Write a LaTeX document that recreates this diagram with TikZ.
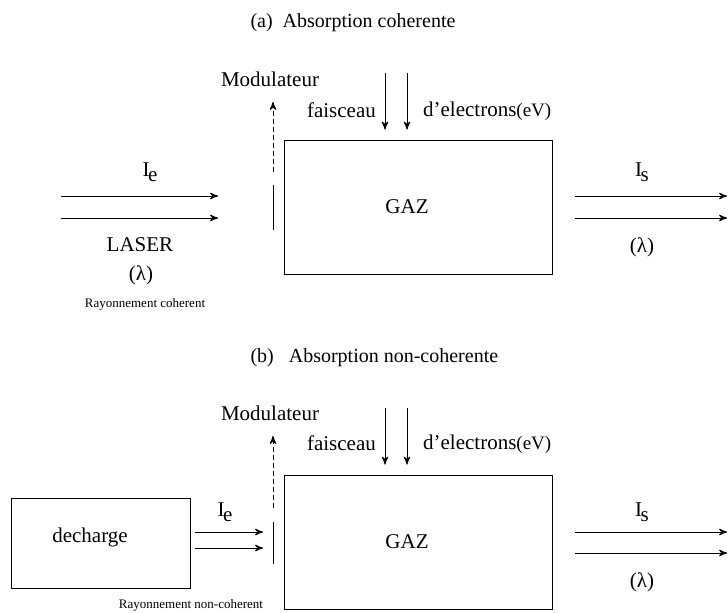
\documentclass[tikz,border=0pt]{standalone}
\usepackage{fontspec}
\setmainfont{Liberation Serif}
\usetikzlibrary{arrows}

\newcommand{\intens}[1]{I\kern-0.8pt\raisebox{-0.55ex}{#1}}

\begin{document}
\begin{tikzpicture}[x=0.5pt,y=-0.5pt,>=stealth',line width=0.5pt,
    font=\fontsize{10.5}{12}\selectfont]
  \tikzstyle{box}=[rectangle,draw,inner sep=0pt]
  \tikzstyle{gaz box}=[box,minimum width=134pt,minimum height=67pt]
  \tikzstyle{small}=[font=\fontsize{6.5}{8}\selectfont]
  \tikzstyle{caption}=[anchor=west,inner xsep=0pt,font=\fontsize{10}{12}\selectfont]
  \tikzstyle{modul}=[->,dash pattern=on 2.5pt off 1.5pt]
  \useasboundingbox (0,0) rectangle (728,612);
  % (a) coherent
  \begin{scope}
    \node [caption] (title) at (250,23) {(a)\ \ Absorption coherente};
    \node [gaz box] (gaz) at (418,207) {};
    \node (gazl) at (407,207) {GAZ};
    \node (mod) at (270,79) {Modulateur};
    \node [anchor=east] (fais) at (383,110) {faisceau};
    \node [anchor=west] (elec) at (416,111) {d’electrons\fontsize{9.5}{10}\selectfont(eV)};
    \foreach \x [count=\i] in {385,407} {
      \coordinate (f\i) at (\x,73);
      \draw [->] (f\i) -- ([yshift=5pt]gaz.north -| f\i);
    }
    \coordinate (m1) at (273,185); \coordinate (m2) at (273,230);
    \draw (m1) -- (m2);
    \coordinate (d1) at (273,172); \coordinate (d2) at (273,102);
    \draw [modul] (d1) -- (d2);
    \foreach \y [count=\i] in {196,218} {
      \coordinate (inA\i) at (61,\y); \coordinate (inB\i) at (218,\y);
      \draw [->] (inA\i) -- (inB\i);
      \coordinate (outA\i) at (575,\y); \coordinate (outB\i) at (727,\y);
      \draw [->] (outA\i) -- (outB\i);
    }
    \node (ie) at (150,172) {\intens{e}};
    \node (laser) at (140,245) {LASER};
    \node (lin) at (141,275) {(λ)};
    \node [small] (ray) at (145,304) {Rayonnement coherent};
    \node (is) at (642,172) {\intens{s}};
    \node (lout) at (642,247) {(λ)};
  \end{scope}
  % (b) non-coherent
  \begin{scope}[yshift=-167.5pt]
    \node [caption] (title) at (250,23) {(b)\ \ \ Absorption non-coherente};
    \node [gaz box] (gaz) at (418,207) {};
    \node (gazl) at (407,207) {GAZ};
    \node (mod) at (270,78) {Modulateur};
    \node [anchor=east] (fais) at (383,108) {faisceau};
    \node [anchor=west] (elec) at (416,109) {d’electrons\fontsize{9.5}{10}\selectfont(eV)};
    \foreach \x [count=\i] in {385,407} {
      \coordinate (f\i) at (\x,73);
      \draw [->] (f\i) -- ([yshift=5pt]gaz.north -| f\i);
    }
    \node [box,minimum width=89.5pt,minimum height=45pt] (dech) at (100.5,208) {};
    \node (dechl) at (90,202) {decharge};
    \coordinate (m1) at (273,187); \coordinate (m2) at (273,229);
    \draw (m1) -- (m2);
    \coordinate (d1) at (273,173); \coordinate (d2) at (273,101);
    \draw [modul] (d1) -- (d2);
    \foreach \y [count=\i] in {197,213} {
      \coordinate (inA\i) at (195,\y); \coordinate (inB\i) at (263,\y);
      \draw [->] (inA\i) -- (inB\i);
    }
    \foreach \y [count=\i] in {197,218} {
      \coordinate (outA\i) at (575,\y); \coordinate (outB\i) at (727,\y);
      \draw [->] (outA\i) -- (outB\i);
    }
    \node (ie) at (225,177) {\intens{e}};
    \node [small] (ray) at (191,270) {Rayonnement non-coherent};
    \node (is) at (642,177) {\intens{s}};
    \node (lout) at (642,247) {(λ)};
  \end{scope}
\end{tikzpicture}
\end{document}
